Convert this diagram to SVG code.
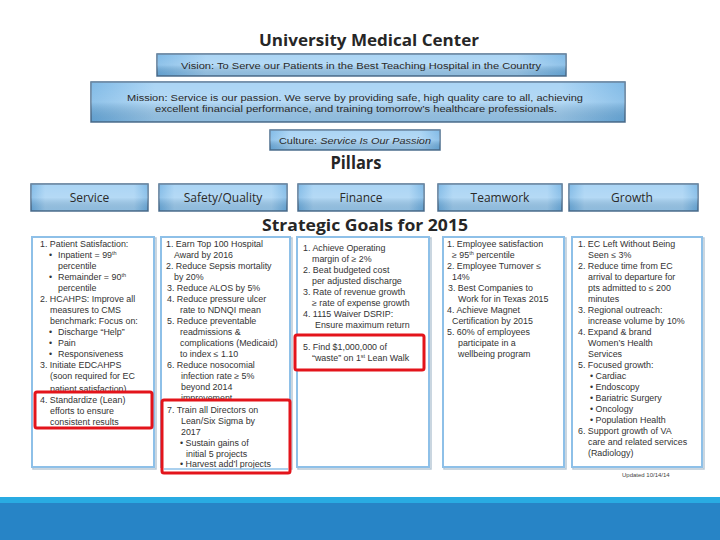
<svg xmlns="http://www.w3.org/2000/svg" width="720" height="540" viewBox="0 0 720 540">
<defs>
<linearGradient id="bluebox" x1="0" y1="0" x2="1" y2="0">
<stop offset="0" stop-color="#6aaee2"/>
<stop offset="0.12" stop-color="#9ccdf2"/>
<stop offset="0.88" stop-color="#9ccdf2"/>
<stop offset="1" stop-color="#6aaee2"/>
</linearGradient>
<linearGradient id="bluev" x1="0" y1="0" x2="0" y2="1">
<stop offset="0" stop-color="#ffffff" stop-opacity="0.15"/>
<stop offset="0.5" stop-color="#ffffff" stop-opacity="0.25"/>
<stop offset="1" stop-color="#000000" stop-opacity="0.08"/>
</linearGradient>
</defs>
<style>
.hdr{font-family:"Open Sans","Liberation Sans",sans-serif;font-weight:bold;fill:#262626;text-anchor:middle}
.bx{fill:url(#bluebox);stroke:#4d6f8f;stroke-width:1.5}
.bxo{fill:url(#bluev);stroke:none}
.bt{font-family:"Liberation Sans",Arial,sans-serif;font-size:9.6px;fill:#2a2a2a}
.pt{font-family:"Open Sans","Liberation Sans",sans-serif;font-size:12px;fill:#2a2a2a;text-anchor:middle}
.gb{fill:#ffffff;stroke:#8ec0e8;stroke-width:2}
.gs{fill:none;stroke:#b9c9d6;stroke-width:1.5}
.t{font-family:"Liberation Sans",Arial,sans-serif;font-size:8.9px;fill:#333333}
.red{fill:#ffffff;stroke:#e3141b;stroke-width:3}
.sup{font-size:5.5px}
</style>
<rect width="720" height="540" fill="#ffffff"/>

<g id="title">
<text class="hdr" x="369" y="46" font-size="16.5" textLength="220" lengthAdjust="spacingAndGlyphs">University Medical Center</text>
</g>

<g id="vision">
<rect class="bx" x="157" y="54" width="409" height="22"/>
<rect class="bxo" x="157" y="54" width="409" height="22"/>
<text class="bt" x="361" y="69" text-anchor="middle" textLength="360" lengthAdjust="spacingAndGlyphs">Vision:  To Serve our Patients in the Best Teaching Hospital in the Country</text>
</g>

<g id="mission">
<rect class="bx" x="91" y="82" width="534" height="40"/>
<rect class="bxo" x="91" y="82" width="534" height="40"/>
<text class="bt" x="355" y="101" text-anchor="middle" textLength="456" lengthAdjust="spacingAndGlyphs">Mission:  Service is our passion.  We serve by providing safe, high quality care to all, achieving</text>
<text class="bt" x="356" y="112" text-anchor="middle" textLength="402" lengthAdjust="spacingAndGlyphs">excellent financial performance, and training tomorrow’s healthcare professionals.</text>
</g>

<g id="culture">
<rect class="bx" x="270" y="130" width="170" height="20"/>
<rect class="bxo" x="270" y="130" width="170" height="20"/>
<text class="bt" x="355" y="144" text-anchor="middle" textLength="152" lengthAdjust="spacingAndGlyphs">Culture:  <tspan font-style="italic">Service Is Our Passion</tspan></text>
</g>

<g id="pillars-title">
<text class="hdr" x="356" y="169" font-size="17" textLength="51" lengthAdjust="spacingAndGlyphs">Pillars</text>
</g>

<g id="pillar-service">
<rect class="bx" x="31" y="184" width="117" height="27"/>
<rect class="bxo" x="31" y="184" width="117" height="27"/>
<text class="pt" x="89.5" y="202">Service</text>
</g>
<g id="pillar-safety">
<rect class="bx" x="159" y="184" width="128" height="27"/>
<rect class="bxo" x="159" y="184" width="128" height="27"/>
<text class="pt" x="223" y="202">Safety/Quality</text>
</g>
<g id="pillar-finance">
<rect class="bx" x="298" y="184" width="126" height="27"/>
<rect class="bxo" x="298" y="184" width="126" height="27"/>
<text class="pt" x="361" y="202">Finance</text>
</g>
<g id="pillar-teamwork">
<rect class="bx" x="438" y="184" width="124" height="27"/>
<rect class="bxo" x="438" y="184" width="124" height="27"/>
<text class="pt" x="500" y="202">Teamwork</text>
</g>
<g id="pillar-growth">
<rect class="bx" x="569" y="184" width="129" height="27"/>
<rect class="bxo" x="569" y="184" width="129" height="27"/>
<text class="pt" x="632" y="202">Growth</text>
</g>

<g id="goals-title">
<text class="hdr" x="365" y="231" font-size="16.5" textLength="206" lengthAdjust="spacingAndGlyphs">Strategic Goals for 2015</text>
</g>

<g id="goals-service">
<rect class="gs" x="33" y="238" width="123" height="231"/>
<rect class="gb" x="32" y="237" width="122" height="230"/>
<text class="t">
<tspan x="40" y="247">1.  Patient Satisfaction:</tspan>
<tspan x="49" y="258">•</tspan><tspan x="58" y="258">Inpatient = 99<tspan class="sup" dy="-3">th</tspan></tspan>
<tspan x="58" y="269">percentile</tspan>
<tspan x="49" y="280">•</tspan><tspan x="58" y="280">Remainder = 90<tspan class="sup" dy="-3">th</tspan></tspan>
<tspan x="58" y="291">percentile</tspan>
<tspan x="40" y="302">2.  HCAHPS:  Improve all</tspan>
<tspan x="50" y="313">measures to CMS</tspan>
<tspan x="50" y="324">benchmark:  Focus on:</tspan>
<tspan x="49" y="335">•</tspan><tspan x="58" y="335">Discharge “Help”</tspan>
<tspan x="49" y="346">•</tspan><tspan x="58" y="346">Pain</tspan>
<tspan x="49" y="357">•</tspan><tspan x="58" y="357">Responsiveness</tspan>
<tspan x="40" y="368">3.  Initiate EDCAHPS</tspan>
<tspan x="50" y="379">(soon required for EC</tspan>
<tspan x="50" y="391.5">patient satisfaction)</tspan>
</text>
<rect class="red" x="35" y="392" width="117" height="36" rx="2"/>
<text class="t">
<tspan x="40" y="403">4.  Standardize (Lean)</tspan>
<tspan x="50" y="414">efforts to ensure</tspan>
<tspan x="50" y="425">consistent results</tspan>
</text>
</g>

<g id="goals-safety">
<rect class="gs" x="162" y="238" width="130" height="231"/>
<rect class="gb" x="161" y="237" width="129" height="230"/>
<text class="t">
<tspan x="166" y="247">1. Earn Top 100 Hospital</tspan>
<tspan x="174" y="258">Award by 2016</tspan>
<tspan x="166" y="269">2. Reduce Sepsis mortality</tspan>
<tspan x="174" y="280">by 20%</tspan>
<tspan x="167" y="291">3.  Reduce ALOS by 5%</tspan>
<tspan x="167" y="302">4.  Reduce pressure ulcer</tspan>
<tspan x="180" y="313">rate to NDNQI mean</tspan>
<tspan x="167" y="324">5.  Reduce preventable</tspan>
<tspan x="180" y="335">readmissions &amp;</tspan>
<tspan x="180" y="346">complications (Medicaid)</tspan>
<tspan x="180" y="357">to index ≤ 1.10</tspan>
<tspan x="167" y="368">6.  Reduce nosocomial</tspan>
<tspan x="181" y="379">infection rate ≥ 5%</tspan>
<tspan x="181" y="390">beyond 2014</tspan>
<tspan x="181" y="401">improvement</tspan>
</text>
<rect class="red" x="162" y="400" width="128" height="73" rx="2"/>
<text class="t">
<tspan x="167" y="413">7.  Train all Directors on</tspan>
<tspan x="181" y="424">Lean/Six Sigma by</tspan>
<tspan x="181" y="435">2017</tspan>
<tspan x="180" y="446">• Sustain gains of</tspan>
<tspan x="186" y="457">initial 5 projects</tspan>
<tspan x="180" y="467">• Harvest add’l projects</tspan>
</text>
<line x1="164" y1="469" x2="288" y2="469" stroke="#8ec0e8" stroke-width="1.5"/>
</g>

<g id="goals-finance">
<rect class="gs" x="298" y="238" width="133" height="231"/>
<rect class="gb" x="297" y="237" width="132" height="230"/>
<text class="t">
<tspan x="303" y="251">1. Achieve Operating</tspan>
<tspan x="312" y="262">margin of ≥ 2%</tspan>
<tspan x="303" y="273">2. Beat budgeted cost</tspan>
<tspan x="312" y="284">per adjusted discharge</tspan>
<tspan x="303" y="295">3. Rate of revenue growth</tspan>
<tspan x="312" y="306">≥ rate of expense growth</tspan>
<tspan x="303" y="317">4. 1115 Waiver  DSRIP:</tspan>
<tspan x="315" y="328">Ensure maximum return</tspan>
</text>
<rect class="red" x="295" y="335" width="129" height="35" rx="2"/>
<text class="t">
<tspan x="303" y="350">5. Find $1,000,000 of</tspan>
<tspan x="312" y="361">“waste” on 1<tspan class="sup" dy="-3">st</tspan><tspan dy="3"> Lean Walk</tspan></tspan>
</text>
</g>

<g id="goals-teamwork">
<rect class="gs" x="444" y="238" width="122" height="231"/>
<rect class="gb" x="443" y="237" width="121" height="230"/>
<text class="t">
<tspan x="447" y="247">1. Employee satisfaction</tspan>
<tspan x="452" y="258">≥ 95<tspan class="sup" dy="-3">th</tspan><tspan dy="3"> percentile</tspan></tspan>
<tspan x="447" y="269">2. Employee Turnover ≤</tspan>
<tspan x="452" y="280">14%</tspan>
<tspan x="448" y="291">3.  Best Companies to</tspan>
<tspan x="458" y="302">Work for in Texas 2015</tspan>
<tspan x="447" y="313">4. Achieve Magnet</tspan>
<tspan x="452" y="324">Certification by 2015</tspan>
<tspan x="447" y="335">5. 60% of employees</tspan>
<tspan x="458" y="346">participate in a</tspan>
<tspan x="458" y="357">wellbeing program</tspan>
</text>
</g>

<g id="goals-growth">
<rect class="gs" x="573" y="238" width="131" height="231"/>
<rect class="gb" x="572" y="237" width="130" height="230"/>
<text class="t">
<tspan x="578" y="247">1.  EC Left Without Being</tspan>
<tspan x="588" y="258">Seen ≤ 3%</tspan>
<tspan x="578" y="269">2.  Reduce time from EC</tspan>
<tspan x="588" y="280">arrival to departure for</tspan>
<tspan x="588" y="291">pts admitted to ≤ 200</tspan>
<tspan x="588" y="302">minutes</tspan>
<tspan x="578" y="313">3.  Regional outreach:</tspan>
<tspan x="588" y="324">increase volume by 10%</tspan>
<tspan x="578" y="335">4.  Expand &amp; brand</tspan>
<tspan x="588" y="346">Women’s Health</tspan>
<tspan x="588" y="357">Services</tspan>
<tspan x="578" y="368">5.  Focused growth:</tspan>
<tspan x="590" y="379">•  Cardiac</tspan>
<tspan x="590" y="390">•  Endoscopy</tspan>
<tspan x="590" y="401">•  Bariatric Surgery</tspan>
<tspan x="590" y="412">•  Oncology</tspan>
<tspan x="590" y="423">•  Population Health</tspan>
<tspan x="578" y="434">6.  Support growth of VA</tspan>
<tspan x="588" y="445">care and related services</tspan>
<tspan x="588" y="456">(Radiology)</tspan>
</text>
</g>

<g id="updated">
<text x="622" y="477" font-family="Liberation Sans, Arial, sans-serif" font-size="6" fill="#444">Updated 10/14/14</text>
</g>

<g id="footer-band">
<rect x="0" y="497" width="720" height="6" fill="#29abe2"/>
<rect x="0" y="503" width="720" height="37" fill="#2784c6"/>
</g>
</svg>
